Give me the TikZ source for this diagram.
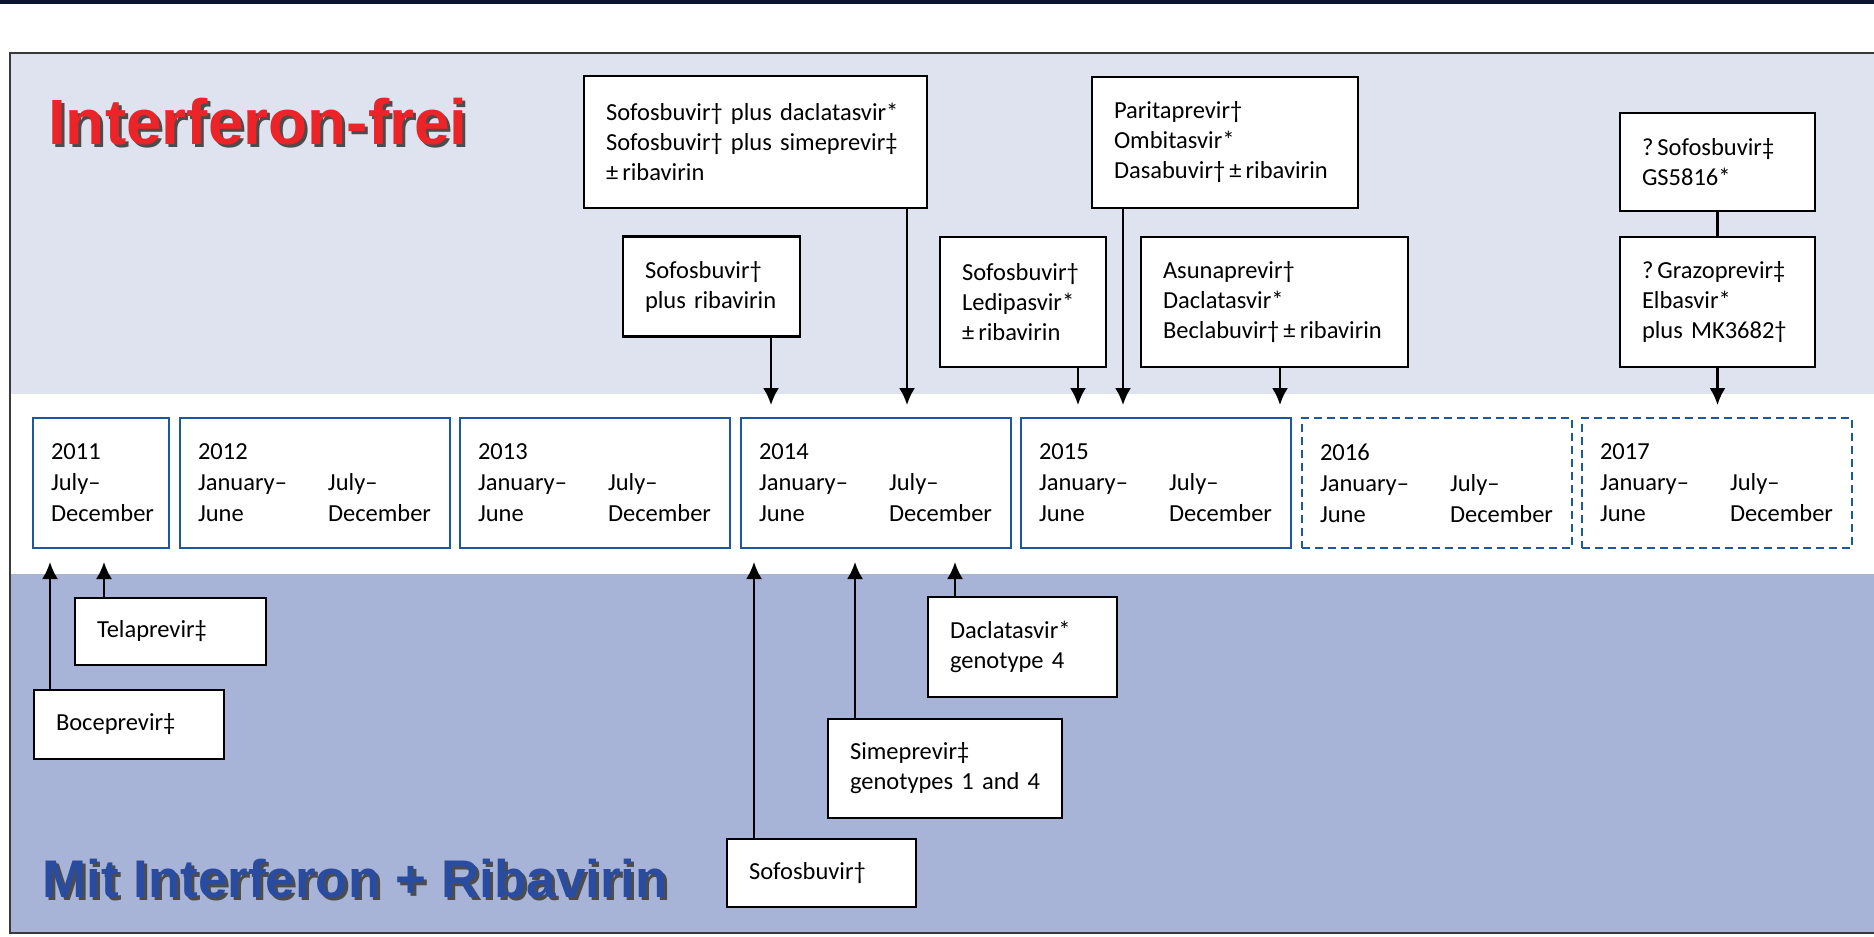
\documentclass[tikz,border=0pt]{standalone}
\usepackage{fontspec}
\setmainfont{Carlito}
\newfontfamily\headfont{Liberation Sans}
\usepackage{tikz}
\usetikzlibrary{calc,arrows.meta}
\definecolor{bandlight}{RGB}{223,227,239}
\definecolor{banddark}{RGB}{167,180,215}
\definecolor{yearblue}{RGB}{28,88,160}
\definecolor{freired}{RGB}{236,36,39}
\definecolor{ribablue}{RGB}{42,76,160}
\definecolor{topbar}{RGB}{11,20,50}
\definecolor{framegrey}{RGB}{58,58,58}
\newcommand\nohyph{\hyphenpenalty=10000\relax}
\tikzset{>={Latex[length=17pt,width=16pt]},
    drug/.style={draw=black, line width=2.5pt, fill=white, align=left,
        inner xsep=22pt, inner ysep=0pt, execute at begin node=\nohyph,
        font=\fontsize{24.5}{30}\selectfont},
    yearbox/.style={draw=yearblue, line width=2.5pt, fill=white, align=left,
        inner xsep=18pt, inner ysep=0pt, minimum height=130pt,
        font=\fontsize{24.5}{31}\selectfont},
    planned/.style={yearbox, dash pattern=on 8pt off 5pt},
    link/.style={line width=2.2pt},
    bigtitle/.style={anchor=base west, inner sep=0pt, font=\headfont\bfseries}}

\begin{document}
\begin{tikzpicture}[x=1pt, y=-1pt]
    \useasboundingbox (0,0) rectangle (1874,937);
    % bands and frame
    \fill[topbar] (0,0) rectangle (1874,4);
    \fill[bandlight] (10,53) rectangle (1874,394);
    \fill[banddark] (10,574) rectangle (1874,933);
    \draw[framegrey, line width=2.5pt] (1874,53) -- (10,53) -- (10,933) -- (1874,933);
    % titles
    \node[bigtitle, text=black!70, font=\headfont\bfseries\fontsize{64}{64}\selectfont] (freiShadow) at (51,147) {Interferon-frei};
    \node[bigtitle, text=freired, font=\headfont\bfseries\fontsize{64}{64}\selectfont] (frei) at (48,144) {Interferon-frei};
    \node[bigtitle, text=black!70, font=\headfont\bfseries\fontsize{53}{53}\selectfont] (ribaShadow) at (45,900) {Mit Interferon + Ribavirin};
    \node[bigtitle, text=ribablue, font=\headfont\bfseries\fontsize{53}{53}\selectfont] (riba) at (42,897) {Mit Interferon + Ribavirin};
    % timeline
    \node[yearbox, text width=100pt] (y2011) at (101,483) {2011\\July–\\December};
    \node[yearbox, text width=234pt] (y2012) at (315,483) {2012\\\makebox[130pt][l]{January–}July–\\\makebox[130pt][l]{June}December};
    \node[yearbox, text width=234pt] (y2013) at (595,483) {2013\\\makebox[130pt][l]{January–}July–\\\makebox[130pt][l]{June}December};
    \node[yearbox, text width=234pt] (y2014) at (876,483) {2014\\\makebox[130pt][l]{January–}July–\\\makebox[130pt][l]{June}December};
    \node[yearbox, text width=234pt] (y2015) at (1156,483) {2015\\\makebox[130pt][l]{January–}July–\\\makebox[130pt][l]{June}December};
    \node[planned, text width=234pt] (y2016) at (1437,483) {2016\\\makebox[130pt][l]{January–}July–\\\makebox[130pt][l]{June}December};
    \node[planned, text width=234pt] (y2017) at (1717,483) {2017\\\makebox[130pt][l]{January–}July–\\\makebox[130pt][l]{June}December};
    % interferon-free regimens
    \node[drug, text width=299pt, minimum height=132pt] (sofdac) at (755.5,142) {Sofosbuvir†~plus~daclatasvir*\\Sofosbuvir†~plus~simeprevir‡\\±\,ribavirin};
    \node[drug, text width=133pt, minimum height=100pt] (sofrib) at (711.5,286.5) {Sofosbuvir†\\plus~ribavirin};
    \node[drug, text width=122pt, minimum height=130pt] (ledi) at (1023,302) {Sofosbuvir†\\Ledipasvir*\\±\,ribavirin};
    \node[drug, text width=222pt, minimum height=131pt] (parita) at (1225,142.5) {Paritaprevir†\\Ombitasvir*\\Dasabuvir†\,±\,ribavirin};
    \node[drug, text width=223pt, minimum height=130pt] (asuna) at (1274.5,302) {Asunaprevir†\\Daclatasvir*\\Beclabuvir†\,±\,ribavirin};
    \node[drug, text width=151pt, minimum height=98pt] (gs) at (1717.5,162) {?\,Sofosbuvir‡\\GS5816*};
    \node[drug, text width=151pt, minimum height=130pt] (grazo) at (1717.5,302) {?\,Grazoprevir‡\\Elbasvir*\\plus~MK3682†};
    % regimens with interferon
    \node[drug, text width=147pt, minimum height=67pt] (tela) at (170.5,631.5) {Telaprevir‡};
    \node[drug, text width=146pt, minimum height=69pt] (boce) at (129,724.5) {Boceprevir‡};
    \node[drug, text width=145pt, minimum height=68pt] (sofo) at (821.5,873) {Sofosbuvir†};
    \node[drug, text width=190pt, minimum height=99pt] (sime) at (945,768.5) {Simeprevir‡\\genotypes~1~and~4};
    \node[drug, text width=145pt, minimum height=100pt] (dacla) at (1022.5,647) {Daclatasvir*\\genotype~4};
    % arrow tips
    \coordinate (tSofrib) at (771,405);
    \coordinate (tSofdac) at (907,405);
    \coordinate (tLedi) at (1078,405);
    \coordinate (tParita) at (1123,405);
    \coordinate (tAsuna) at (1280,405);
    \coordinate (tGrazo) at (1717.5,405);
    \coordinate (tBoce) at (50,562);
    \coordinate (tTela) at (104,562);
    \coordinate (tSofo) at (754,562);
    \coordinate (tSime) at (855,562);
    \coordinate (tDacla) at (955,562);
    \draw[link, ->] (tSofrib |- sofrib.south) -- (tSofrib);
    \draw[link, ->] (tSofdac |- sofdac.south) -- (tSofdac);
    \draw[link, ->] (tLedi |- ledi.south) -- (tLedi);
    \draw[link, ->] (tParita |- parita.south) -- (tParita);
    \draw[link, ->] (tAsuna |- asuna.south) -- (tAsuna);
    \draw[link, ->] (grazo.south) -- (tGrazo);
    \draw[link] (gs.south) -- (grazo.north);
    \draw[link, ->] (tBoce |- boce.north) -- (tBoce);
    \draw[link, ->] (tTela |- tela.north) -- (tTela);
    \draw[link, ->] (tSofo |- sofo.north) -- (tSofo);
    \draw[link, ->] (tSime |- sime.north) -- (tSime);
    \draw[link, ->] (tDacla |- dacla.north) -- (tDacla);
\end{tikzpicture}
\end{document}
